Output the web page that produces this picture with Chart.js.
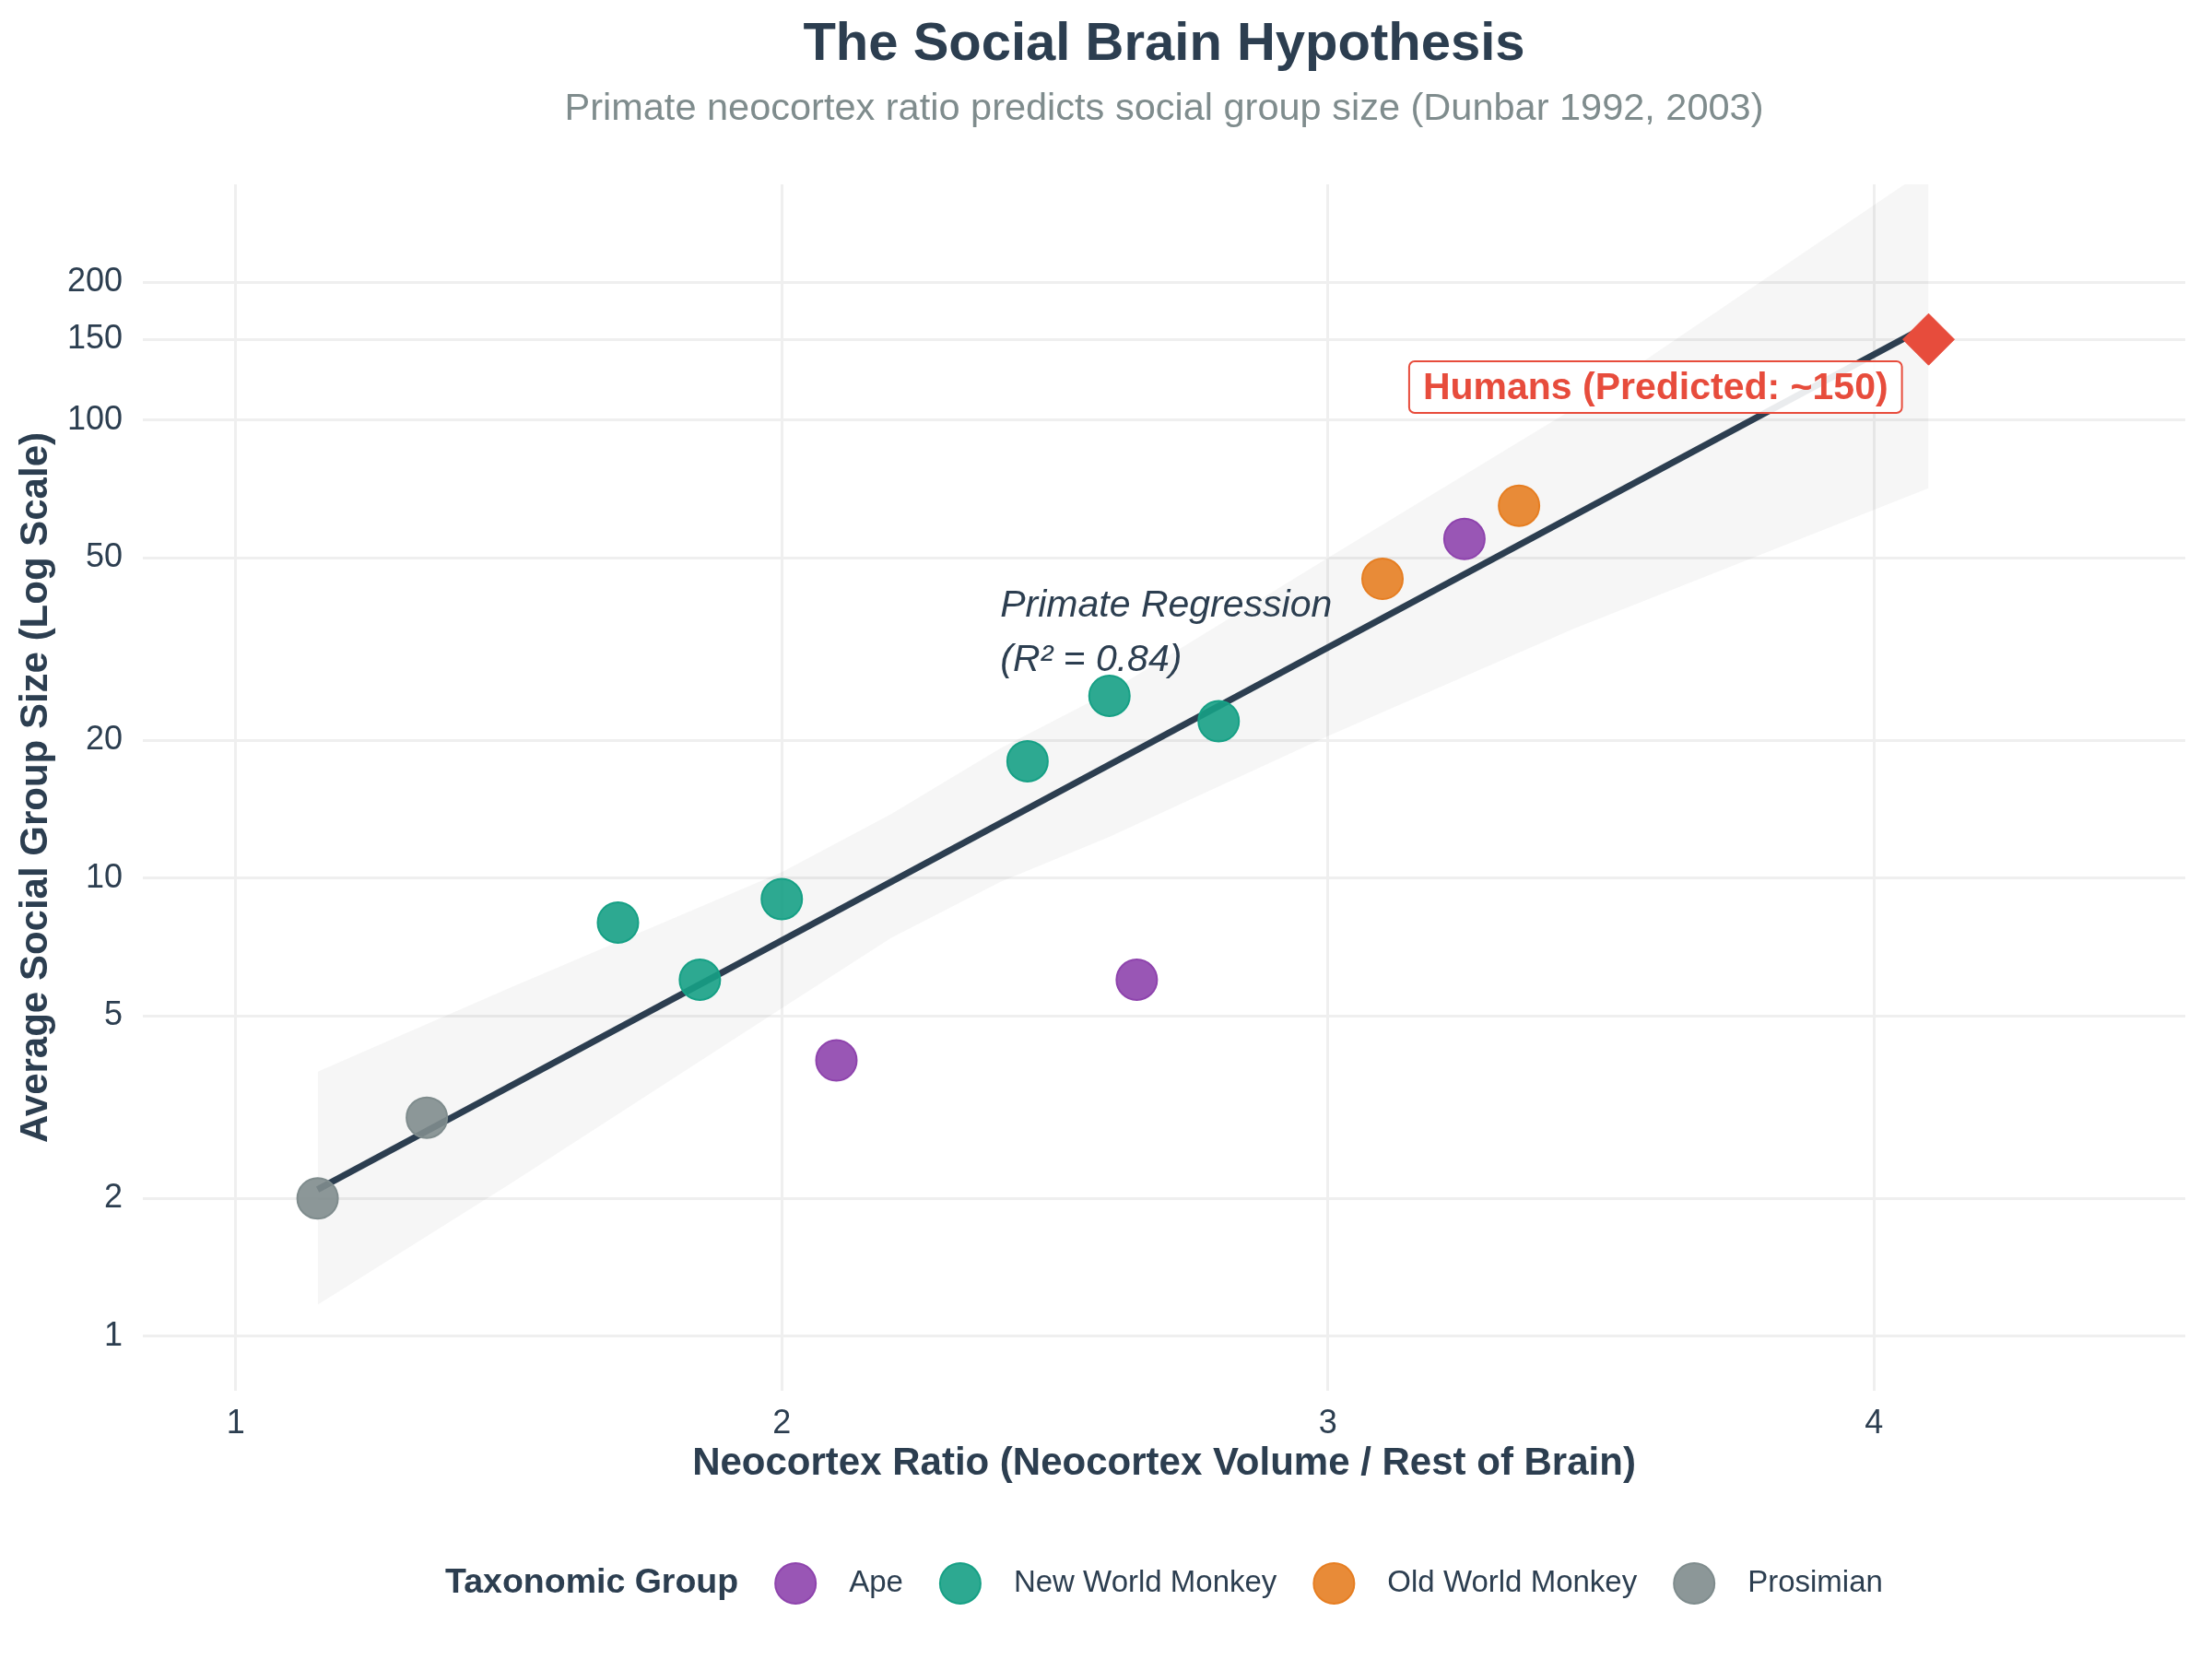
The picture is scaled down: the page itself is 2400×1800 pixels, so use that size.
<!DOCTYPE html>
<html>
<head>
<meta charset="utf-8">
<title>The Social Brain Hypothesis</title>
<script src="https://cdn.jsdelivr.net/npm/chart.js@4.4.1/dist/chart.umd.min.js"></script>
<style>
    html, body { margin: 0; padding: 0; background: #ffffff; }
    #wrap { width: 2400px; height: 1800px; }
</style>
</head>
<body>
<div id="wrap"><canvas id="brainChart" width="2400" height="1800"></canvas></div>
<script>
const FONT = '"Liberation Sans", Arial, Helvetica, sans-serif';
const DARK = '#2c3e50';

// taxonomic groups, in legend order
const groupNames = ['Ape', 'New World Monkey', 'Old World Monkey', 'Prosimian'];
const groupColors = ['#8e44ad', '#16a085', '#e67e22', '#7f8c8d'];

// neocortex ratio and mean group size per species
const apeRatio = [2.10, 2.65, 3.25];
const apeGroup = [4, 6, 55];
const nwmRatio = [1.70, 1.85, 2.00, 2.45, 2.60, 2.80];
const nwmGroup = [8, 6, 9, 18, 25, 22];
const owmRatio = [3.10, 3.35];
const owmGroup = [45, 65];
const prosRatio = [1.15, 1.35];
const prosGroup = [2, 3];

const humanRatio = [4.10];
const humanGroup = [150];

// regression line and its confidence band
const fitRatio = [1.15, 4.10];
const fitGroup = [2.09, 161];
const bandRatio = [1.15, 1.5, 2.0, 2.2, 2.4, 2.6, 3.0, 3.45, 4.1];
const bandUpper = [3.78, 5.75, 10.3, 13.8, 19.2, 25.5, 50, 106, 355];
const bandLower = [1.17, 2.14, 5.2, 7.4, 9.8, 12.3, 20.4, 35, 71];

const xTicks = [1, 2, 3, 4];
const yTicks = [1, 2, 5, 10, 20, 50, 100, 150, 200];

function pares(xs, ys) {
    return xs.map((v, i) => ({ x: v, y: ys[i] }));
}

function conAlfa(hex, a) {
    const n = parseInt(hex.slice(1), 16);
    return `rgba(${(n >> 16) & 255}, ${(n >> 8) & 255}, ${n & 255}, ${a})`;
}

const grupos = [
    [apeRatio, apeGroup],
    [nwmRatio, nwmGroup],
    [owmRatio, owmGroup],
    [prosRatio, prosGroup]
];

const puntos = grupos.map(([xs, ys], i) => ({
    label: groupNames[i],
    data: pares(xs, ys),
    backgroundColor: conAlfa(groupColors[i], 0.9),
    borderColor: groupColors[i],
    borderWidth: 2,
    pointRadius: 22,
    order: 2
}));

const decoraciones = {
    id: 'decoraciones',
    afterDraw(chart) {
        const { ctx, chartArea, scales: { x, y } } = chart;
        const mid = (chartArea.left + chartArea.right) / 2;
        ctx.save();

        // title + subtitle
        ctx.textAlign = 'center';
        ctx.textBaseline = 'alphabetic';
        ctx.fillStyle = DARK;
        ctx.font = `bold 58px ${FONT}`;
        ctx.fillText('The Social Brain Hypothesis', mid, 65);
        ctx.fillStyle = '#7f8c8d';
        ctx.font = `41.5px ${FONT}`;
        ctx.fillText('Primate neocortex ratio predicts social group size (Dunbar 1992, 2003)', mid, 130);

        // regression note
        ctx.textAlign = 'left';
        ctx.fillStyle = DARK;
        ctx.font = `italic 41px ${FONT}`;
        ctx.fillText('Primate Regression', x.getPixelForValue(2.4), y.getPixelForValue(37.3));
        ctx.fillText('(R\u00b2 = 0.84)', x.getPixelForValue(2.4), y.getPixelForValue(28.3));

        // humans callout
        const txt = 'Humans (Predicted: ~150)';
        ctx.font = `bold 41px ${FONT}`;
        const w = ctx.measureText(txt).width;
        const cx = x.getPixelForValue(3.6);
        const cy = y.getPixelForValue(118);
        const bw = w + 30, bh = 56;
        ctx.beginPath();
        ctx.roundRect(cx - bw / 2, cy - bh / 2, bw, bh, 6);
        ctx.fillStyle = 'rgba(255,255,255,0.9)';
        ctx.fill();
        ctx.lineWidth = 2;
        ctx.strokeStyle = '#e74c3c';
        ctx.stroke();
        ctx.fillStyle = '#e74c3c';
        ctx.textAlign = 'center';
        ctx.textBaseline = 'middle';
        ctx.fillText(txt, cx, cy + 2);

        // legend along the bottom
        const ly = 1718;
        const r = 22;
        ctx.textAlign = 'left';
        ctx.font = `bold 37.5px ${FONT}`;
        const tituloW = ctx.measureText('Taxonomic Group').width;
        ctx.font = `33px ${FONT}`;
        const anchos = groupNames.map(n => ctx.measureText(n).width);
        let total = tituloW;
        anchos.forEach(a => { total += 40 + 2 * r + 36 + a; });
        let lx = mid - total / 2;
        ctx.fillStyle = DARK;
        ctx.font = `bold 37.5px ${FONT}`;
        ctx.fillText('Taxonomic Group', lx, ly);
        lx += tituloW;
        ctx.font = `33px ${FONT}`;
        groupNames.forEach((n, i) => {
            lx += 40;
            ctx.beginPath();
            ctx.arc(lx + r, ly, r, 0, Math.PI * 2);
            ctx.fillStyle = conAlfa(groupColors[i], 0.9);
            ctx.fill();
            ctx.lineWidth = 2;
            ctx.strokeStyle = groupColors[i];
            ctx.stroke();
            lx += 2 * r + 36;
            ctx.fillStyle = DARK;
            ctx.fillText(n, lx, ly);
            lx += anchos[i];
        });

        ctx.restore();
    }
};

const ctx = document.getElementById('brainChart').getContext('2d');

new Chart(ctx, {
    type: 'scatter',
    data: {
        datasets: [
            {
                label: 'band-upper',
                data: pares(bandRatio, bandUpper),
                showLine: true,
                borderWidth: 0,
                borderColor: 'rgba(0,0,0,0)',
                pointRadius: 0,
                fill: false,
                order: 10
            },
            {
                label: 'band-lower',
                data: pares(bandRatio, bandLower),
                showLine: true,
                borderWidth: 0,
                borderColor: 'rgba(0,0,0,0)',
                pointRadius: 0,
                fill: '-1',
                backgroundColor: 'rgba(0,0,0,0.035)',
                order: 10
            },
            {
                label: 'fit',
                data: pares(fitRatio, fitGroup),
                showLine: true,
                borderColor: DARK,
                borderWidth: 7,
                pointRadius: 0,
                order: 5
            },
            ...puntos,
            {
                label: 'Humans',
                data: pares(humanRatio, humanGroup),
                pointStyle: 'rectRot',
                pointRadius: 28,
                backgroundColor: '#e74c3c',
                borderColor: '#e74c3c',
                borderWidth: 1,
                order: 1
            }
        ]
    },
    options: {
        responsive: false,
        animation: false,
        devicePixelRatio: 1,
        events: [],
        layout: { padding: { top: 200, right: 23, bottom: 186, left: 0 } },
        plugins: {
            legend: { display: false },
            title: { display: false },
            tooltip: { enabled: false }
        },
        scales: {
            x: {
                type: 'linear',
                min: 0.83,
                max: 4.57,
                afterBuildTicks: s => { s.ticks = xTicks.map(v => ({ value: v })); },
                afterFit: s => { s.height = 105; },
                grid: { color: '#efefef', lineWidth: 3, drawTicks: false },
                border: { display: false },
                ticks: { color: DARK, font: { family: FONT, size: 36 }, padding: 14, maxRotation: 0 },
                title: {
                    display: true,
                    text: 'Neocortex Ratio (Neocortex Volume / Rest of Brain)',
                    color: DARK,
                    font: { family: FONT, size: 42, weight: 'bold' },
                    padding: { top: 0, bottom: 0 }
                }
            },
            y: {
                type: 'logarithmic',
                min: 0.76,
                max: 327,
                afterBuildTicks: s => { s.ticks = yTicks.map(v => ({ value: v })); },
                afterFit: s => { s.width = 155; },
                grid: { color: '#efefef', lineWidth: 3, drawTicks: false },
                border: { display: false },
                ticks: { color: DARK, font: { family: FONT, size: 36 }, padding: 22, callback: v => String(v) },
                title: {
                    display: true,
                    text: 'Average Social Group Size (Log Scale)',
                    color: DARK,
                    font: { family: FONT, size: 42, weight: 'bold' },
                    padding: { top: 14, bottom: 0 }
                }
            }
        }
    },
    plugins: [decoraciones]
});
</script>
</body>
</html>
